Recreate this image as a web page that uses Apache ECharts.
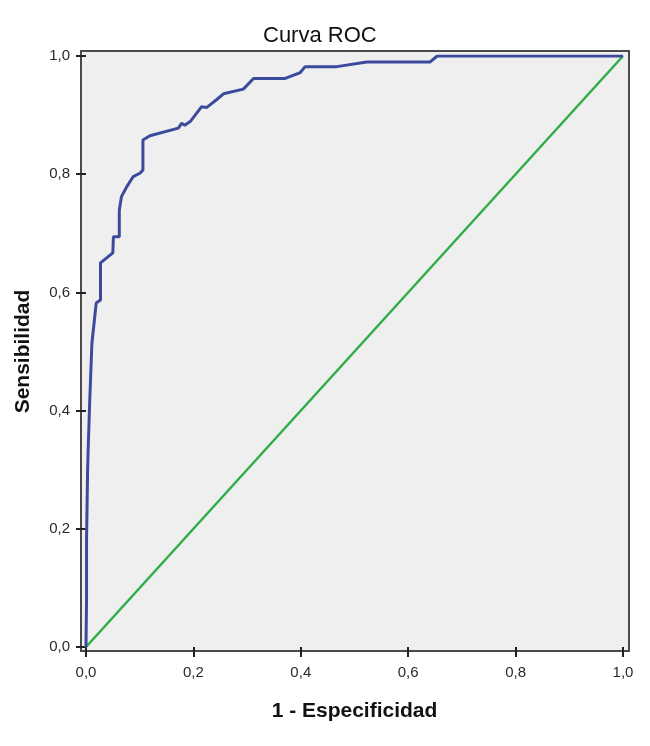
<!DOCTYPE html>
<html>
<head>
<meta charset="utf-8">
<script src="https://cdn.jsdelivr.net/npm/echarts@6/dist/echarts.min.js"></script>
<style>html,body{margin:0;padding:0;background:#fff;}#c{width:650px;height:746px;}</style>
</head>
<body>
<div id="c"></div>
<script>
var titleText = 'Curva ROC';
var xName = '1 - Especificidad';
var yName = 'Sensibilidad';
var tickValues = [0, 0.2, 0.4, 0.6, 0.8, 1.0];

var rocX = [0, 0.001, 0.001, 0.003, 0.004, 0.007, 0.011, 0.019, 0.027, 0.027, 0.050, 0.051, 0.062, 0.062, 0.066, 0.076, 0.088, 0.101, 0.106, 0.106, 0.119, 0.172, 0.178, 0.184, 0.194, 0.215, 0.225, 0.243, 0.256, 0.293, 0.312, 0.371, 0.399, 0.408, 0.467, 0.523, 0.641, 0.654, 1.0];
var rocY = [0, 0.08, 0.18, 0.30, 0.333, 0.418, 0.514, 0.582, 0.587, 0.650, 0.667, 0.694, 0.694, 0.739, 0.762, 0.779, 0.796, 0.802, 0.807, 0.858, 0.865, 0.878, 0.886, 0.883, 0.889, 0.914, 0.913, 0.926, 0.936, 0.944, 0.962, 0.962, 0.972, 0.982, 0.982, 0.990, 0.990, 1.0, 1.0];
var refX = [0, 1];
var refY = [0, 1];

function pairs(xs, ys) { return xs.map(function (x, i) { return [x, ys[i]]; }); }
function fmt(v) { return v.toFixed(1).replace('.', ','); }

var chart = echarts.init(document.getElementById('c'), null, {renderer: 'canvas'});
var font = '"Liberation Sans", Arial, sans-serif';
chart.setOption({
  backgroundColor: '#ffffff',
  animation: false,
  title: {
    text: titleText, left: 258, top: 20,
    textStyle: {fontFamily: font, fontSize: 22, fontWeight: 'normal', color: '#111'}
  },
  grid: [
    {left: 81, top: 51, width: 548, height: 600, show: true, backgroundColor: '#efefef', borderColor: '#4a4a4a', borderWidth: 2, containLabel: false},
    {left: 86, top: 56, width: 537, height: 591, containLabel: false}
  ],
  xAxis: [
    {gridIndex: 0, type: 'value', min: 0, max: 1, show: false},
    {gridIndex: 1, type: 'value', min: 0, max: 1, interval: 0.2, offset: 4,
     name: xName, nameLocation: 'middle', nameGap: 50,
     nameTextStyle: {fontFamily: font, fontSize: 21, fontWeight: 'bold', color: '#111'},
     axisLine: {show: false},
     axisTick: {show: true, length: 10, lineStyle: {color: '#222', width: 2}},
     axisLabel: {formatter: fmt, fontFamily: font, fontSize: 15, color: '#2a2a2a', margin: 14},
     splitLine: {show: false}}
  ],
  yAxis: [
    {gridIndex: 0, type: 'value', min: 0, max: 1, show: false},
    {gridIndex: 1, type: 'value', min: 0, max: 1, interval: 0.2, offset: 5,
     name: yName, nameLocation: 'middle', nameGap: 47,
     nameTextStyle: {fontFamily: font, fontSize: 21, fontWeight: 'bold', color: '#111'},
     axisLine: {show: false},
     axisTick: {show: true, length: 10, lineStyle: {color: '#222', width: 2}},
     axisLabel: {formatter: fmt, fontFamily: font, fontSize: 15, color: '#2a2a2a', margin: 11},
     splitLine: {show: false}}
  ],
  series: [
    {type: 'line', xAxisIndex: 1, yAxisIndex: 1, data: pairs(refX, refY), showSymbol: false, symbol: 'none',
     lineStyle: {color: '#2fae48', width: 2.5}},
    {type: 'line', xAxisIndex: 1, yAxisIndex: 1, data: pairs(rocX, rocY), showSymbol: false, symbol: 'none',
     lineStyle: {color: '#3b4a9c', width: 3}}
  ]
});
</script>
</body>
</html>
